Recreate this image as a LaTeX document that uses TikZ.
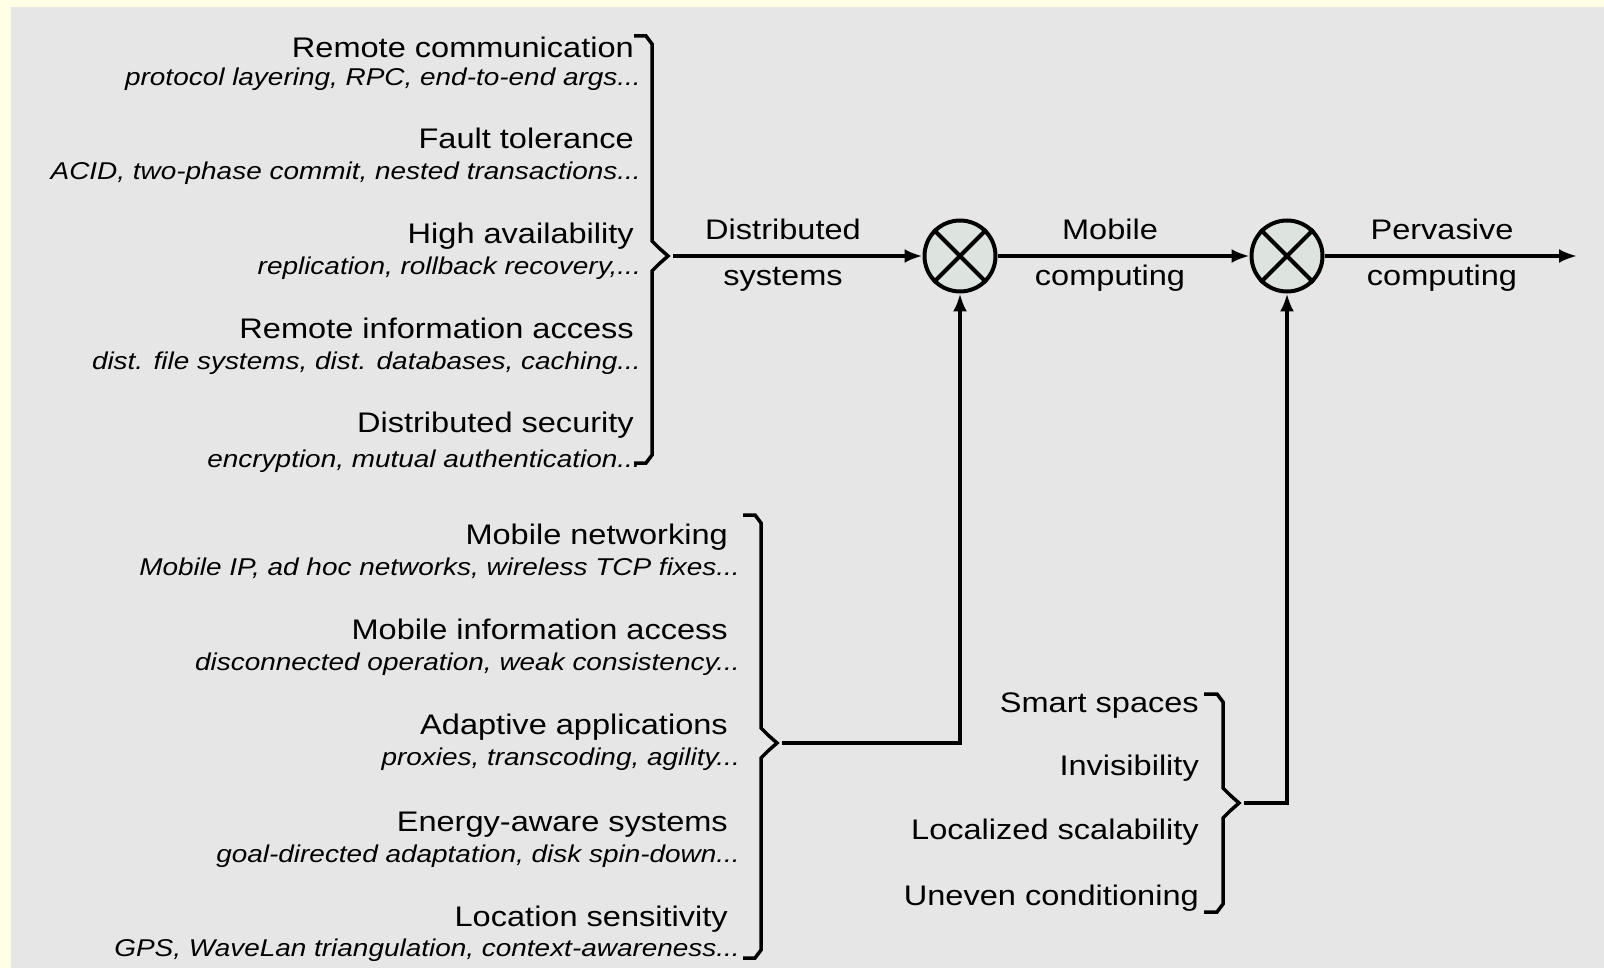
\documentclass[tikz,border=0pt]{standalone}
\usepackage{fontspec}
\setmainfont{Liberation Sans}[FakeStretch=1.15]
\usetikzlibrary{arrows.meta}
\definecolor{bgyellow}{RGB}{255,255,230}
\definecolor{bggray}{RGB}{230,230,230}
\definecolor{circfill}{RGB}{221,228,224}
\tikzset{
 title/.style={anchor=base east, inner sep=0pt, font=\fontsize{28.3}{34}\selectfont},
 sub/.style={anchor=base east, inner sep=0pt, font=\fontsize{24.3}{29}\selectfont\itshape},
 flowlabel/.style={anchor=base, inner sep=0pt, font=\fontsize{28.3}{34}\selectfont},
 braceline/.style={line width=3.5pt, line join=miter},
 conn/.style={line width=3.5pt, -{Latex[length=18pt,width=14pt]}},
 mixer/.style={circle, draw, line width=4pt, fill=circfill, minimum size=71pt, inner sep=0pt},
}
\newcommand\mybrace[6]{%
 \draw[braceline] (#1,#4) -- ({#2-6},#4) -- (#2,{#4+8}) -- (#2,{#6-15}) -- ({#2+7},{#6-8}) -- (#3,#6) -- ({#2+7},{#6+8}) -- (#2,{#6+15}) -- (#2,{#5-8}) -- ({#2-6},#5) -- (#1,#5);}
\begin{document}
\begin{tikzpicture}[x=1pt,y=-1pt]
\useasboundingbox (0,0) rectangle (1604,968);
\fill[bgyellow] (0,0) rectangle (1604,968);
\fill[bggray] (11,7) rectangle (1604,968);

% top group
\node[title] (t1) at (634,58) {Remote communication};
\node[sub] (s1) at (641,86) {protocol layering, RPC, end-to-end args...};
\node[title] (t2) at (634,149) {Fault tolerance};
\node[sub] (s2) at (641,180) {ACID, two-phase commit, nested transactions...};
\node[title] (t3) at (634,244) {High availability};
\node[sub] (s3) at (641,275) {replication, rollback recovery,...};
\node[title] (t4) at (634,338) {Remote information access};
\node[sub] (s4) at (641,370) {dist. file systems, dist. databases, caching...};
\node[title] (t5) at (634,432) {Distributed security};
\node[sub] (s5) at (641,467) {encryption, mutual authentication...};

% bottom-left group
\node[title] (m1) at (728,544) {Mobile networking};
\node[sub] (n1) at (740,575) {Mobile IP, ad hoc networks, wireless TCP fixes...};
\node[title] (m2) at (728,639) {Mobile information access};
\node[sub] (n2) at (740,670) {disconnected operation, weak consistency...};
\node[title] (m3) at (728,734) {Adaptive applications};
\node[sub] (n3) at (740,765) {proxies, transcoding, agility...};
\node[title] (m4) at (728,831) {Energy-aware systems};
\node[sub] (n4) at (740,862) {goal-directed adaptation, disk spin-down...};
\node[title] (m5) at (728,926) {Location sensitivity};
\node[sub] (n5) at (740,956) {GPS, WaveLan triangulation, context-awareness...};

% right group
\node[title] (p1) at (1199,712) {Smart spaces};
\node[title] (p2) at (1199,775) {Invisibility};
\node[title] (p3) at (1199,839) {Localized scalability};
\node[title] (p4) at (1199,905) {Uneven conditioning};

% braces
\mybrace{634}{652}{668}{36}{463}{256}
\mybrace{743}{761}{777}{515}{958}{743}
\mybrace{1204}{1223}{1239}{694}{912}{803}

\coordinate (b1) at (673,256);
\coordinate (b2) at (782,743);
\coordinate (b3) at (1244,803);
\coordinate (out) at (1577,256);

% mixers
\node[mixer] (c1) at (960,256) {};
\node[mixer] (c2) at (1287,256) {};
\draw[line width=4pt] (c1.north west) -- (c1.south east) (c1.north east) -- (c1.south west);
\draw[line width=4pt] (c2.north west) -- (c2.south east) (c2.north east) -- (c2.south west);

% connectors
\draw[conn] (b1) -- (c1.west);
\draw[conn] (c1.east) -- (c2.west);
\draw[conn] (c2.east) -- (out);
\draw[conn] (b2) -| (c1.south);
\draw[conn] (b3) -| (c2.south);

% flow labels
\node[flowlabel] (l1a) at (783,240) {Distributed};
\node[flowlabel] (l1b) at (783,286) {systems};
\node[flowlabel] (l2a) at (1110,240) {Mobile};
\node[flowlabel] (l2b) at (1110,286) {computing};
\node[flowlabel] (l3a) at (1442,240) {Pervasive};
\node[flowlabel] (l3b) at (1442,286) {computing};
\end{tikzpicture}
\end{document}
